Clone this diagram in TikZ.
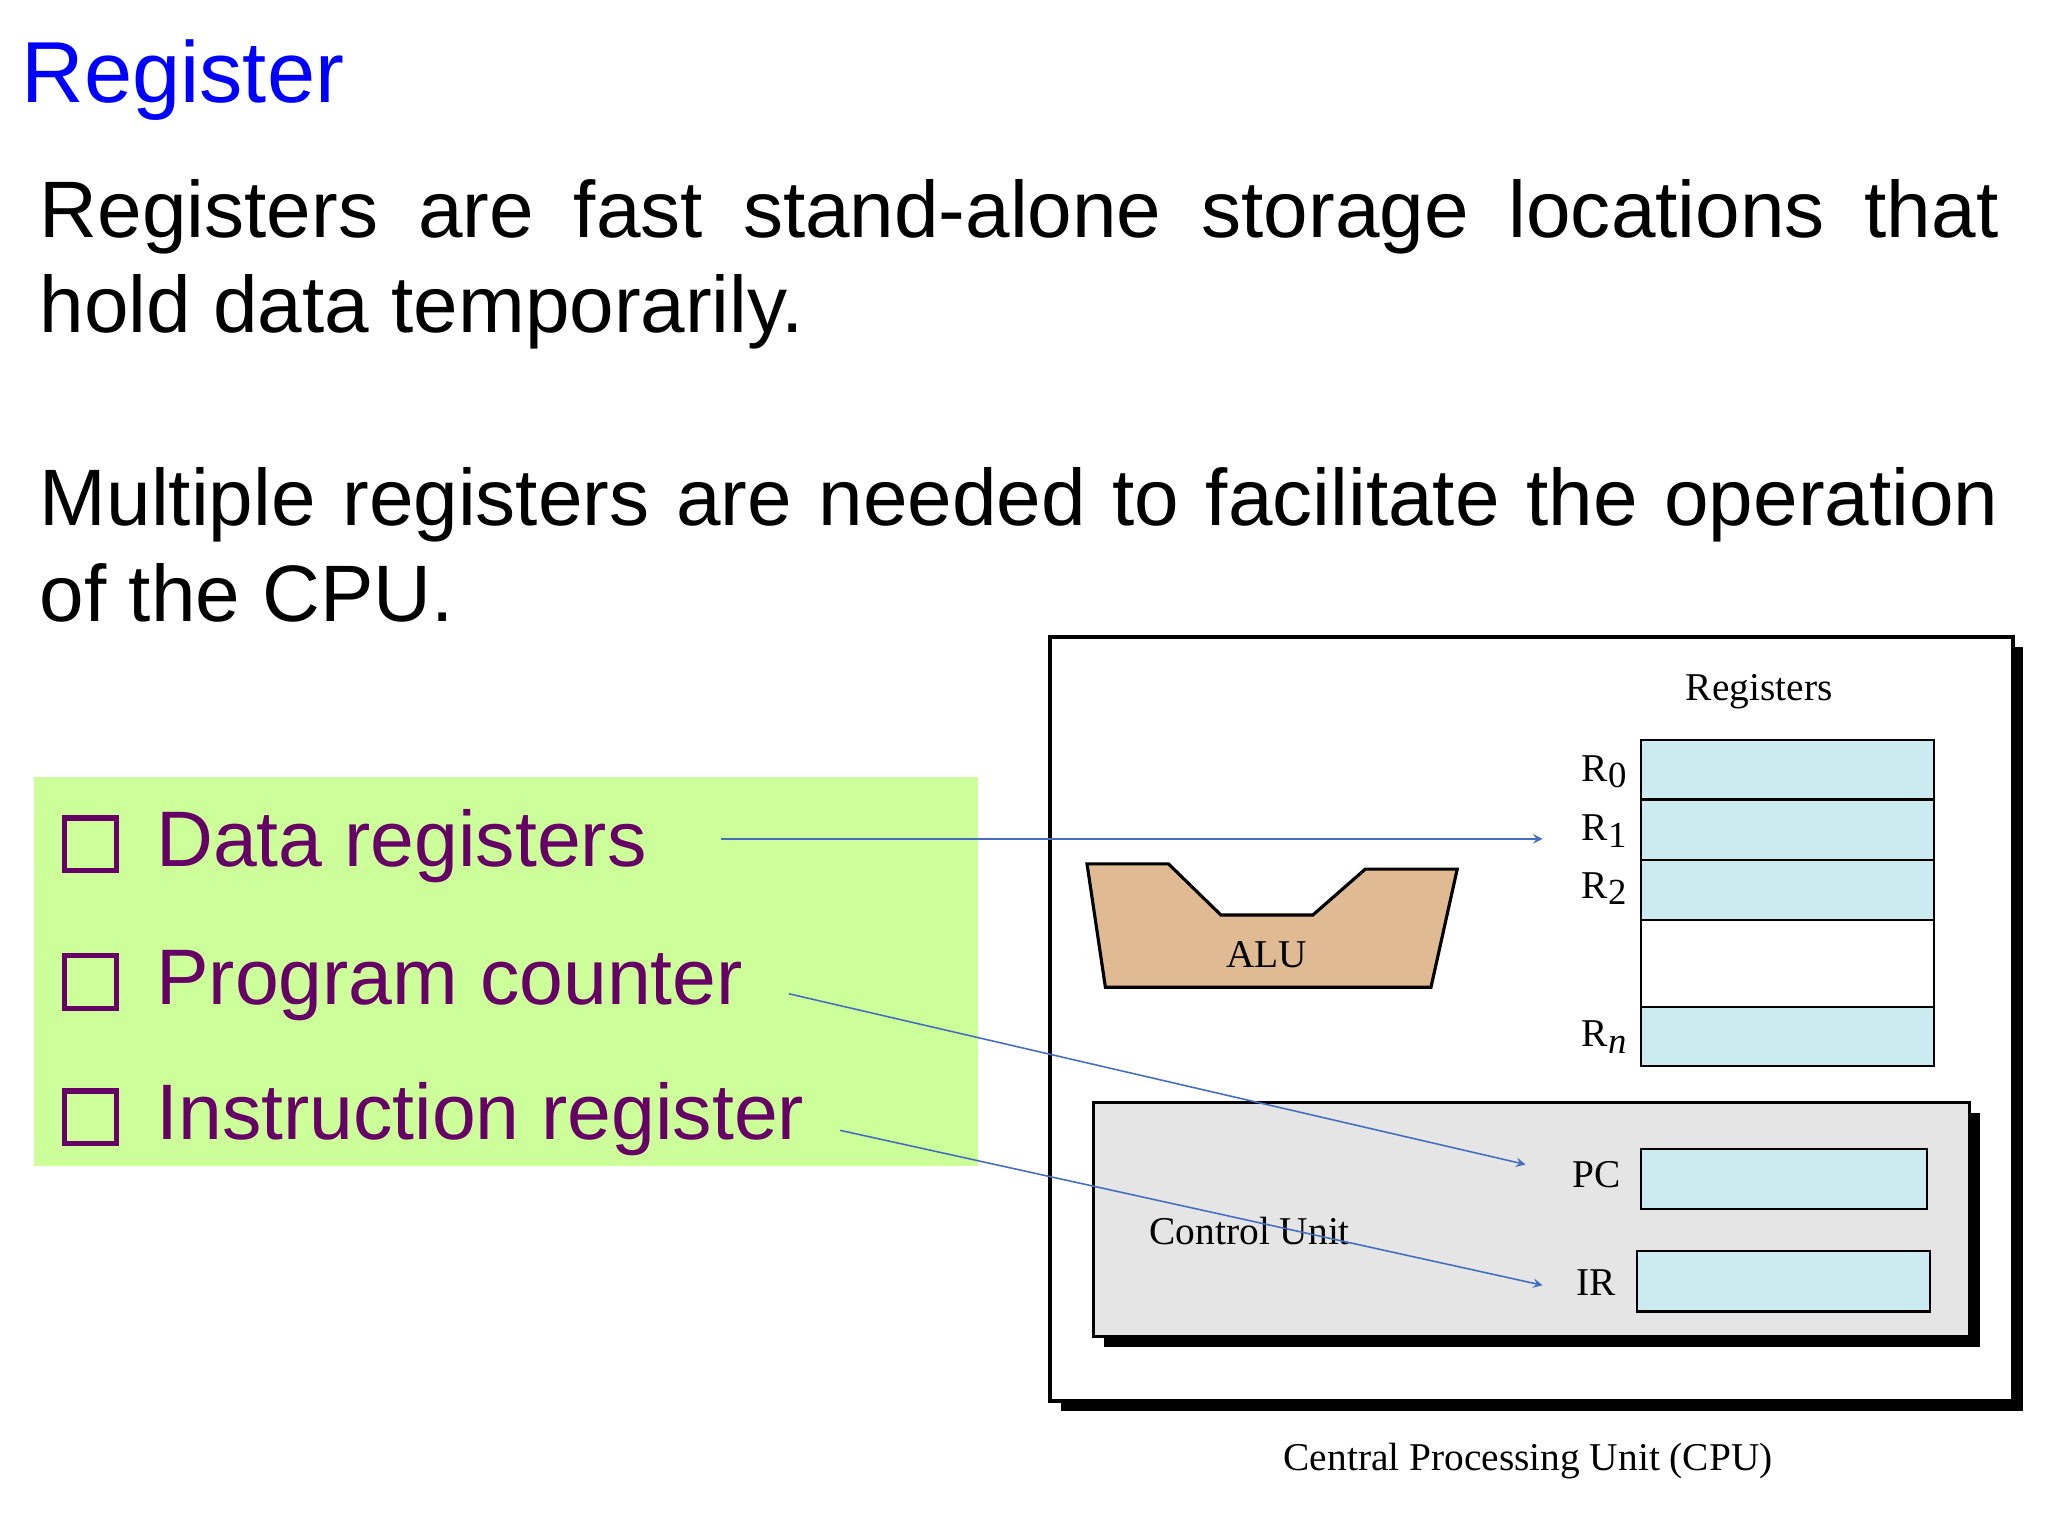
\documentclass[tikz,border=0pt]{standalone}
\usepackage{fontspec}
\setmainfont{Liberation Serif}
\newfontfamily\arial{Liberation Sans}
\newcommand{\rsub}[1]{\raisebox{-0.35ex}{\fontsize{14}{14}\selectfont #1}}
\begin{document}
\begin{tikzpicture}[x=0.5pt,y=-0.5pt,
  reg/.style={draw=black,fill=regblue,line width=0.8pt},
  lbl/.style={font=\fontsize{15}{18}\selectfont},
  arr/.style={draw=linkblue,line width=0.6pt,-stealth},
  chk/.style={draw=itemtxt,line width=2pt,minimum size=20pt,inner sep=0pt},
  item/.style={anchor=base west,text=itemtxt,font=\arial\fontsize{30}{36}\selectfont}]
\definecolor{regblue}{RGB}{204,235,240}
\definecolor{linkblue}{RGB}{70,110,190}
\definecolor{itemtxt}{RGB}{102,0,102}
\definecolor{greenbg}{RGB}{204,255,153}
\definecolor{alufill}{RGB}{224,186,146}
\useasboundingbox (0,0) rectangle (1560,1170);
\fill[white] (0,0) rectangle (1560,1170);
\node[anchor=base west,text=blue,font=\arial\fontsize{33}{38}\selectfont,inner sep=0] (title) at (16,78) {Register};
\node[anchor=north west,inner sep=0,text width=746pt,align=justify,font=\arial\fontsize{30.5}{36.5}\selectfont] (p1) at (30,136)
 {Registers are fast stand-alone storage locations that hold data temporarily.};
\node[anchor=north west,inner sep=0,text width=746pt,align=justify,font=\arial\fontsize{30.5}{36.5}\selectfont] (p2) at (30,356)
 {Multiple registers are needed to facilitate the operation of the CPU.};
\fill[greenbg] (26,592) rectangle (745,888);
\foreach \y/\t/\n in {660/Data registers/a,765/Program counter/b,868/Instruction register/c}{
  \node[chk] (k\n) at (69,\y-17) {};
  \node[item] (i\n) at (112,\y) {\t};
}
% CPU
\fill[black] (808,493) rectangle (1541,1075);
\draw[fill=white,line width=1.5pt] (800,485) rectangle (1533,1067);
\fill[black] (841,848) rectangle (1508,1026);
\draw[fill=black!10,line width=1.2pt] (833,840) rectangle (1500,1018);
\node[lbl] (regs) at (1340,527) {Registers};
\draw[reg] (1250,564) rectangle (1473,609);
\draw[reg] (1250,609) rectangle (1473,655);
\draw[reg] (1250,655) rectangle (1473,701);
\draw[line width=0.8pt] (1250,701) rectangle (1473,767);
\draw[reg] (1250,767) rectangle (1473,812);
\node[lbl] (r0) at (1222,588) {R\rsub{0}};
\node[lbl] (r1) at (1222,633) {R\rsub{1}};
\node[lbl] (r2) at (1222,677) {R\rsub{2}};
\node[lbl] (rn) at (1222,790) {R\rsub{\itshape n}};
\draw[fill=alufill,line width=1.2pt] (828,658)--(890,658)--(930,697)--(1000,697)--(1040,662)--(1110,662)--(1090,752)--(842,752)--cycle;
\node[lbl] (alu) at (965,727) {ALU};
\draw[reg] (1250,875) rectangle (1468,921);
\draw[reg] (1247,953) rectangle (1470,999);
\node[lbl] (pc) at (1216,895) {PC};
\node[lbl] (ir) at (1216,977) {IR};
\node[lbl] (cu) at (952,938) {Control Unit};
\node[lbl] (cpu) at (1164,1113) {Central Processing Unit (CPU)};
\coordinate (ta) at (1175,639);
\coordinate (tb) at (1162,887);
\coordinate (tc) at (1175,979);
\coordinate (sa) at (549,639);
\coordinate (sb) at (601,757);
\coordinate (sc) at (640,861);
\draw[arr] (sa)--(ta);
\draw[arr] (sb)--(tb);
\draw[arr] (sc)--(tc);
\end{tikzpicture}
\end{document}
